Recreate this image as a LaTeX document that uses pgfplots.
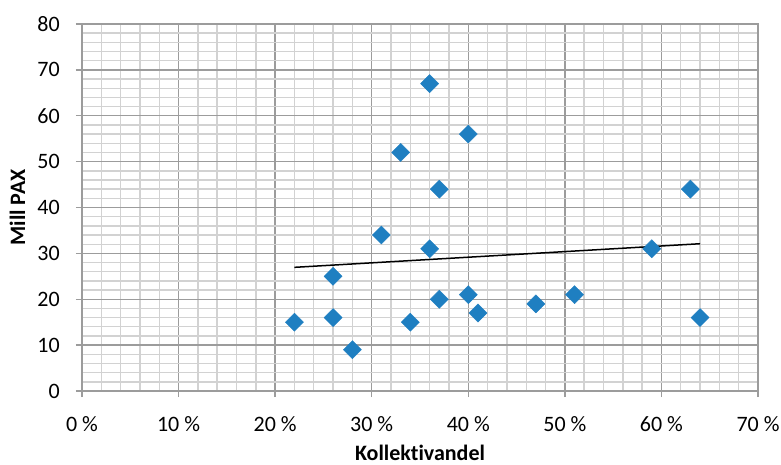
\documentclass[border=0pt]{standalone}
\usepackage{pgfplots}
\usepackage{pgfplotstable}
\pgfplotsset{compat=1.18}
\usepackage{fontspec}
\setmainfont[Ligatures={NoCommon}]{Carlito}

\definecolor{markblue}{HTML}{1F7FC1}
\definecolor{majgrid}{HTML}{9C9C9C}
\definecolor{mingrid}{HTML}{D2D2D2}

% Kollektivandel (%) og Mill PAX
\pgfplotstableread{
x  y
22 15
26 25
26 16
28 9
31 34
33 52
34 15
36 67
36 31
37 44
37 20
40 56
40 21
41 17
47 19
51 21
59 31
63 44
64 16
}\datatable

\begin{document}
\begin{tikzpicture}
\path[use as bounding box] (-82bp,-74bp) rectangle (699bp,391bp);
\begin{axis}[
  scale only axis,
  width=676bp,
  height=367bp,
  xmin=0, xmax=70,
  ymin=0, ymax=80,
  xtick={0,10,...,70},
  ytick={0,10,...,80},
  minor x tick num=4,
  minor y tick num=4,
  grid=both,
  major grid style={majgrid, line width=1.4bp},
  minor grid style={mingrid, line width=1.4bp},
  axis line style={majgrid, line width=1.4bp},
  tick style={majgrid, line width=1.4bp},
  major tick length=6bp,
  minor tick length=0pt,
  tick align=outside,
  xtick pos=bottom,
  ytick pos=left,
  xticklabel={\pgfmathprintnumber{\tick}~\%},
  /pgf/number format/assume math mode=true,
  tick label style={font=\fontsize{22bp}{26bp}\selectfont, black, inner sep=0pt},
  xticklabel style={anchor=north, yshift=-19bp},
  yticklabel style={anchor=east, xshift=-16bp},
  label style={font=\fontsize{22bp}{26bp}\selectfont\bfseries},
  xlabel={Kollektivandel},
  ylabel={Mill PAX},
  xlabel style={at={(axis description cs:0.5,-0.19)}, anchor=base, inner sep=0pt},
  ylabel style={at={(axis description cs:-0.0843,0.5)}, anchor=base, inner sep=0pt},
]
\addplot[only marks, mark=square*, mark size=6.4bp,
  mark options={rotate=45, fill=markblue, draw=markblue}]
  table[x=x, y=y] {\datatable};
\addplot[black, line width=1.5bp, no markers]
  table[x=x, y={create col/linear regression={y=y}}] {\datatable};
\end{axis}
\end{tikzpicture}
\end{document}
